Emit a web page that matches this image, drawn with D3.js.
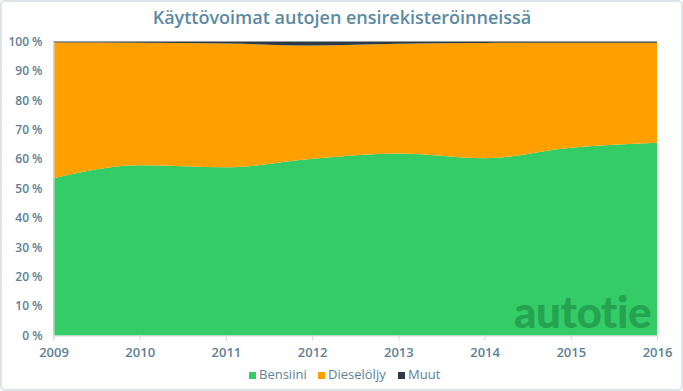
<!DOCTYPE html>
<html><head><meta charset="utf-8">
<script src="https://cdn.jsdelivr.net/npm/d3@7"></script>
<style>body{margin:0;background:#fff}svg{display:block}</style>
</head><body>
<script>
const years = [2009, 2010, 2011, 2012, 2013, 2014, 2015, 2016];
const bensiini = [53.5, 57.9, 57.2, 60.1, 61.9, 60.3, 63.9, 65.6];
const muut = [0.3, 0.4, 0.7, 1.4, 0.8, 0.5, 0.4, 0.4];
const diesel = years.map((y, i) => +(100 - bensiini[i] - muut[i]).toFixed(1));
const yTicks = [0, 10, 20, 30, 40, 50, 60, 70, 80, 90, 100];
const seriesNames = ["Bensiini", "Dieselöljy", "Muut"];
const colors = ["#33cc66", "#ffa000", "#2b3a45"];

const FONT = "'Open Sans', Lato, sans-serif";
const W = 683, H = 391;
const svg = d3.select("body").append("svg").attr("width", W).attr("height", H);
svg.append("rect").attr("x", 1).attr("y", 1).attr("width", W - 2).attr("height", H - 2)
  .attr("rx", 4).attr("fill", "#fff").attr("stroke", "#dde5ea").attr("stroke-width", 2);

const x = d3.scaleLinear().domain([2009, 2016]).range([53.5, 657]);
const y = d3.scaleLinear().domain([0, 100]).range([335.5, 41.5]);

const table = years.map((yr, i) => ({year: yr, Bensiini: bensiini[i], "Dieselöljy": diesel[i], Muut: muut[i]}));
const stack = d3.stack().keys(seriesNames)(table);
const area = d3.area().x(d => x(d.data.year)).y0(d => y(d[0])).y1(d => y(d[1]))
  .curve(d3.curveMonotoneX);

svg.append("g").selectAll("path").data(stack).join("path")
  .attr("d", area).attr("fill", (d, i) => colors[i]);

// y axis
const yAxis = svg.append("g").attr("transform", `translate(${x(2009)},0)`)
  .call(d3.axisLeft(y).tickValues(yTicks).tickFormat(d => d + " %").tickSize(0).tickPadding(11));
yAxis.select(".domain").attr("stroke", "#d9d9d9");
yAxis.selectAll("text").attr("fill", "#5d7f96").style("font-family", FONT)
  .style("font-size", "12px").style("font-weight", "600");

// x axis
const xAxis = svg.append("g").attr("transform", `translate(0,${y(0)})`)
  .call(d3.axisBottom(x).tickValues(years).tickFormat(d3.format("d")).tickSize(5).tickPadding(7));
xAxis.select(".domain").attr("stroke", "#d9d9d9");
xAxis.selectAll("line").attr("stroke", "#d9d9d9");
xAxis.selectAll("text").attr("fill", "#5d7f96").style("font-family", FONT)
  .style("font-size", "13px").style("font-weight", "600");

// title
svg.append("text").attr("x", 342).attr("y", 24).attr("text-anchor", "middle")
  .attr("fill", "#5b8aa3").style("font-family", FONT).style("font-size", "18px").style("font-weight", "600")
  .text("Käyttövoimat autojen ensirekisteröinneissä");

// watermark
svg.append("text").attr("x", 651).attr("y", 328).attr("text-anchor", "end")
  .attr("fill", "#26a350").style("font-family", "Lato, 'Open Sans', sans-serif").style("font-weight", "900")
  .style("font-size", "44px").style("letter-spacing", "-0.5px").text("autotie");

// legend
const legX = [249, 318, 398];
const leg = svg.append("g").selectAll("g").data(seriesNames).join("g")
  .attr("transform", (d, i) => `translate(${legX[i]},379)`);
leg.append("rect").attr("x", 0).attr("y", -7).attr("width", 7).attr("height", 7).attr("fill", (d, i) => colors[i]);
leg.append("text").attr("x", 10).attr("y", 0).attr("fill", "#5d7f96")
  .style("font-family", FONT).style("font-size", "13px").style("font-weight", "500").text(d => d);
</script>
</body></html>
